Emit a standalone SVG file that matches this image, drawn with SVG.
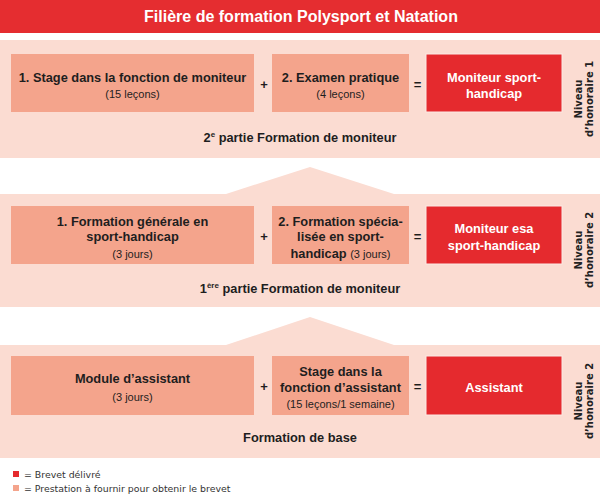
<svg xmlns="http://www.w3.org/2000/svg" width="600" height="494" viewBox="0 0 600 494">
<style>
.band{fill:#fbdcd2}
.box{fill:#f4a48c}
.red{fill:#e52a2e;stroke:#fbe9e4;stroke-width:1}
.t{font-family:"Liberation Sans",Arial,sans-serif;fill:#1e1e1e;text-anchor:middle}
.b{font-weight:bold;font-size:12.8px}
.s{font-size:11px;font-weight:normal}
.w{fill:#ffffff}
.op{font-family:"Liberation Sans",Arial,sans-serif;font-weight:bold;font-size:13px;fill:#1e1e1e;text-anchor:middle}
.lvl{font-family:"DejaVu Sans",sans-serif;font-weight:bold;font-size:10px;fill:#222;text-anchor:middle}
.lg{font-family:"DejaVu Sans",sans-serif;font-size:9.4px;fill:#333}
</style>
<rect width="600" height="494" fill="#ffffff"/>
<g id="title">
<rect x="0" y="0" width="600" height="33" fill="#e52d30"/>
<text x="301" y="22" font-family="'Liberation Sans',Arial,sans-serif" font-weight="bold" font-size="16px" fill="#ffffff" text-anchor="middle">Filière de formation Polysport et Natation</text>
</g>
<g id="bands">
<rect class="band" x="0" y="40" width="600" height="118"/>
<polygon class="band" points="226,194 310,167 394,194"/>
<rect class="band" x="0" y="194" width="600" height="113"/>
<polygon class="band" points="226,345 310,317 394,345"/>
<rect class="band" x="0" y="345" width="600" height="113"/>
</g>
<g id="row1-stage">
<rect class="box" x="11" y="54" width="243" height="58"/>
<text class="t b" x="132.5" y="82">1. Stage dans la fonction de moniteur</text>
<text class="t s" x="132.5" y="98">(15 leçons)</text>
</g>
<g id="row1-examen">
<rect class="box" x="272" y="54" width="137" height="58"/>
<text class="t b" x="340.5" y="82">2. Examen pratique</text>
<text class="t s" x="340.5" y="98">(4 leçons)</text>
</g>
<g id="row1-moniteur">
<rect class="red" x="426" y="54" width="136" height="58"/>
<text class="t b w" x="494" y="82">Moniteur sport-</text>
<text class="t b w" x="494" y="98">handicap</text>
</g>
<g id="row1-label">
<text class="t b" x="300" y="142">2<tspan font-size="8px" dy="-5">e</tspan><tspan dy="5"> partie Formation de moniteur</tspan></text>
</g>
<g id="row1-niveau">
<text class="lvl" transform="translate(582,99) rotate(-90)">Niveau</text>
<text class="lvl" transform="translate(592.5,99) rotate(-90)">d’honoraire 1</text>
</g>
<g id="row2-generale">
<rect class="box" x="11" y="206" width="243" height="58"/>
<text class="t b" x="132.5" y="225.5">1. Formation générale en</text>
<text class="t b" x="132.5" y="241">sport-handicap</text>
<text class="t s" x="132.5" y="257.5">(3 jours)</text>
</g>
<g id="row2-specialisee">
<rect class="box" x="272" y="206" width="137" height="58"/>
<text class="t b" x="340.5" y="225.5">2. Formation spécia-</text>
<text class="t b" x="340.5" y="241">lisée en sport-</text>
<text class="t b" x="340.5" y="257.5">handicap <tspan class="s">(3 jours)</tspan></text>
</g>
<g id="row2-moniteur-esa">
<rect class="red" x="426" y="206" width="136" height="58"/>
<text class="t b w" x="494" y="232.5">Moniteur esa</text>
<text class="t b w" x="494" y="249.5">sport-handicap</text>
</g>
<g id="row2-label">
<text class="t b" x="300" y="293">1<tspan font-size="8px" dy="-5">ère</tspan><tspan dy="5"> partie Formation de moniteur</tspan></text>
</g>
<g id="row2-niveau">
<text class="lvl" transform="translate(582,250) rotate(-90)">Niveau</text>
<text class="lvl" transform="translate(592.5,250) rotate(-90)">d’honoraire 2</text>
</g>
<g id="row3-module">
<rect class="box" x="11" y="356" width="243" height="59"/>
<text class="t b" x="132.5" y="383">Module d’assistant</text>
<text class="t s" x="132.5" y="401">(3 jours)</text>
</g>
<g id="row3-stage">
<rect class="box" x="272" y="356" width="137" height="59"/>
<text class="t b" x="340.5" y="375.5">Stage dans la</text>
<text class="t b" x="340.5" y="391.5">fonction d’assistant</text>
<text class="t s" x="340.5" y="408">(15 leçons/1 semaine)</text>
</g>
<g id="row3-assistant">
<rect class="red" x="426" y="356" width="136" height="59"/>
<text class="t b w" x="494" y="391.5">Assistant</text>
</g>
<g id="row3-label">
<text class="t b" x="300" y="442">Formation de base</text>
</g>
<g id="row3-niveau">
<text class="lvl" transform="translate(582,401) rotate(-90)">Niveau</text>
<text class="lvl" transform="translate(592.5,401) rotate(-90)">d’honoraire 2</text>
</g>
<g id="connectors">
<text class="op" x="264" y="89">+</text>
<text class="op" x="417.5" y="89">=</text>
<text class="op" x="264" y="241">+</text>
<text class="op" x="417.5" y="241">=</text>
<text class="op" x="264" y="391">+</text>
<text class="op" x="417.5" y="391">=</text>
</g>
<g id="legend">
<rect x="13" y="471" width="6" height="6" fill="#e52a2e"/>
<text class="lg" x="24" y="478">= Brevet délivré</text>
<rect x="13" y="485" width="6" height="6" fill="#f4a48c"/>
<text class="lg" x="24" y="492">= Prestation à fournir pour obtenir le brevet</text>
</g>
</svg>
